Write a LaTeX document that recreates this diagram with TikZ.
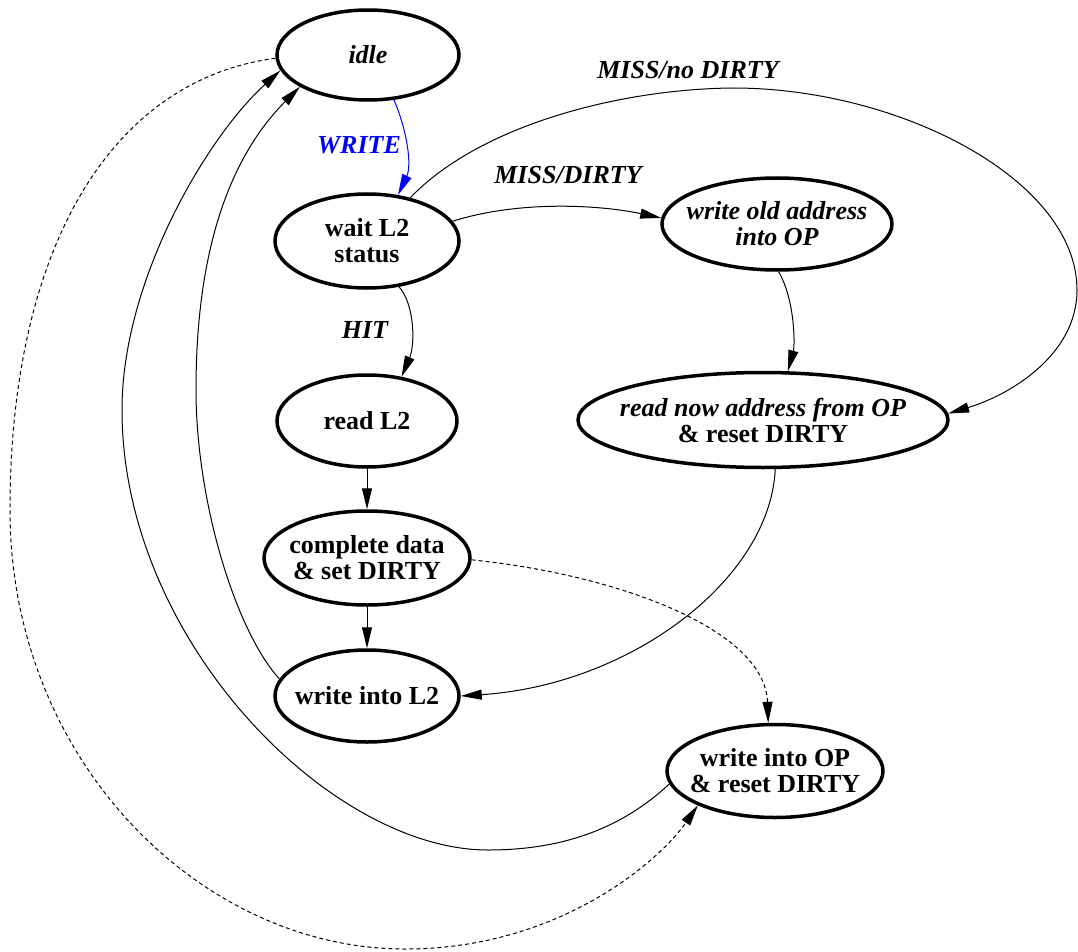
\documentclass[tikz,border=0pt]{standalone}
\usepackage{fontspec}
\setmainfont{Liberation Serif}
\usetikzlibrary{shapes.geometric,arrows.meta}
\begin{document}
\begin{tikzpicture}[x=1pt,y=-1pt,
  st/.style={ellipse, draw, line width=3.5pt, inner sep=0pt},
  nt/.style={font=\fontsize{26}{26}\selectfont\bfseries, align=center, inner sep=0pt},
  el/.style={font=\fontsize{26}{26}\selectfont\bfseries\itshape, inner sep=0pt},
  edge/.style={line width=1pt, -{Triangle[length=21pt,width=10pt]}},
  dedge/.style={edge, dash pattern=on 4pt off 3pt}]
\useasboundingbox (0,0) rectangle (1078,952);
\node[st, minimum width=182pt, minimum height=90pt, label={[nt]center:\textit{idle}}] (idle) at (368,55) {};
\node[st, minimum width=184pt, minimum height=94pt, label={[nt]center:wait L2\\status}] (wait) at (367,241) {};
\node[st, minimum width=230pt, minimum height=92pt, label={[nt]center:\textit{write old address}\\\textit{into OP}}] (old) at (777,224) {};
\node[st, minimum width=370pt, minimum height=95pt, label={[nt]center:\textit{read now address from OP}\\\& reset DIRTY}] (rnow) at (763,420) {};
\node[st, minimum width=180pt, minimum height=92pt, label={[nt]center:read L2}] (rl2) at (367,421) {};
\node[st, minimum width=206pt, minimum height=94pt, label={[nt]center:complete data\\\& set DIRTY}] (comp) at (367,558) {};
\node[st, minimum width=184pt, minimum height=92pt, label={[nt]center:write into L2}] (wl2) at (367,696) {};
\node[st, minimum width=216pt, minimum height=93pt, label={[nt]center:write into OP\\\& reset DIRTY}] (wop) at (775,771) {};

% WRITE
\draw[edge, blue] (idle.-60) .. controls (407,130) and (412,165) .. (wait.56);
\node[el, text=blue] (lw) at (359,145) {WRITE};
% MISS/DIRTY
\draw[edge] (wait.13) .. controls (520,200) and (600,205) .. (old.177);
\node[el] (lmd) at (568,175) {MISS/DIRTY};
% MISS/no DIRTY
\draw[edge] (wait.45) .. controls (480,125) and (620,89) .. (733,88)
  .. controls (900,88) and (1077,180) .. (1077,290)
  .. controls (1077,355) and (1010,395) .. (rnow.2);
\node[el] (lmn) at (688,70) {MISS/no DIRTY};
% HIT
\draw[edge] (wait.-55) .. controls (415,305) and (415,345) .. (rl2.52);
\node[el] (lh) at (365,330) {HIT};
% old -> rnow
\draw[edge] (old.-88) .. controls (795,300) and (795,345) .. (rnow.63);
% rnow -> wl2
\draw[edge] (rnow.-76) .. controls (770,580) and (630,685) .. (wl2.0);
% straight
\draw[edge] (rl2) -- (comp);
\draw[edge] (comp) -- (wl2);
% comp -> wop dashed
\draw[dedge] (comp.-1) .. controls (620,575) and (765,630) .. (wop.98);
% wl2 -> idle
\draw[edge] (wl2.169) .. controls (235,630) and (196,500) .. (196,390)
  .. controls (196,230) and (240,147) .. (idle.-155);
% wop -> idle
\draw[edge] (wop.-173) .. controls (620,830) and (560,850) .. (488,850)
  .. controls (330,850) and (122,640) .. (122,410)
  .. controls (122,280) and (207,137) .. (idle.-170);
% idle -> wop dashed
\draw[dedge] (idle.-178) .. controls (110,80) and (10,250) .. (10,510)
  .. controls (10,760) and (200,949) .. (405,949)
  .. controls (560,949) and (660,860) .. (wop.-156);
\end{tikzpicture}
\end{document}
